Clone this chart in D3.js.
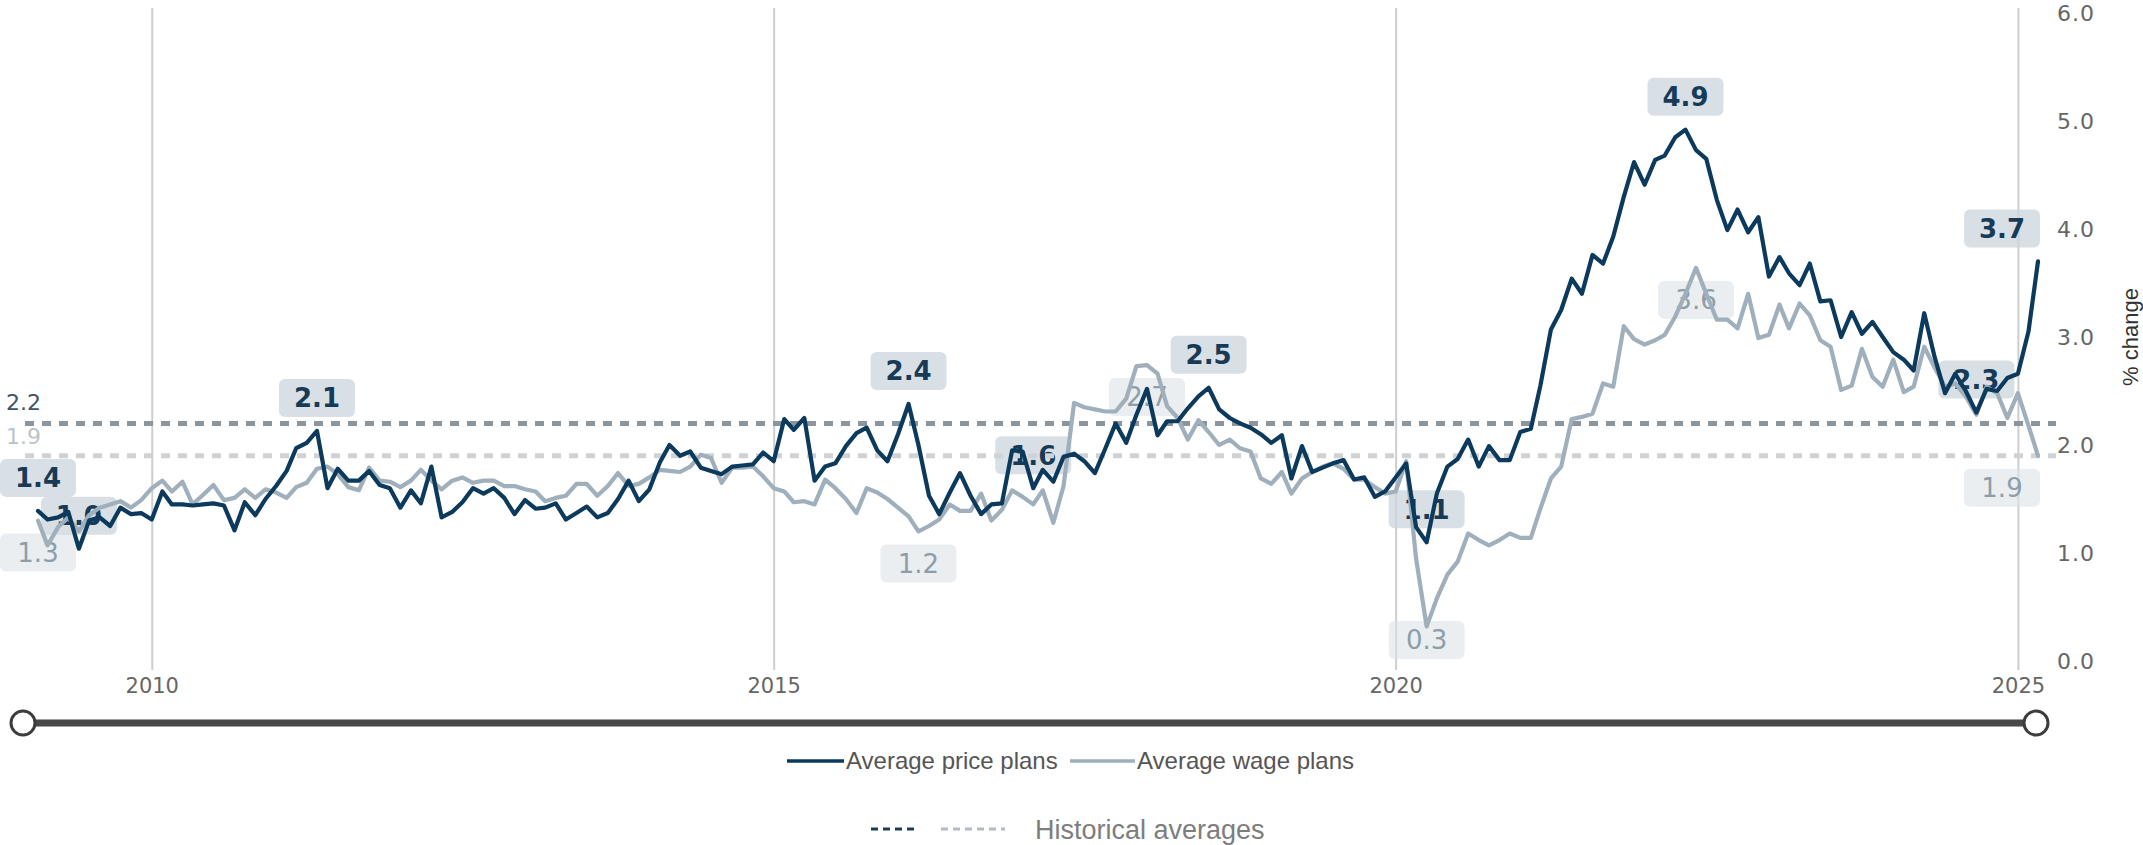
<!DOCTYPE html>
<html>
<head>
<meta charset="utf-8">
<script src="https://cdn.jsdelivr.net/npm/d3@7"></script>
<style>
  html, body { margin: 0; padding: 0; background: #fff; }
  svg { display: block; }
</style>
</head>
<body>
<svg id="chart"></svg>
<script>
// monthly survey readings, Feb 2009 .. Mar 2025
var months = d3.timeMonth.range(new Date(2009, 1, 1), new Date(2025, 3, 1));

var pricePlans = [
  1.39, 1.31, 1.33, 1.38, 1.04, 1.30, 1.33, 1.25, 1.42, 1.36, 1.37,
  1.31, 1.57, 1.45, 1.45, 1.44, 1.45, 1.46, 1.44, 1.21, 1.47, 1.35, 1.50,
  1.62, 1.76, 1.97, 2.02, 2.13, 1.60, 1.78, 1.67, 1.67, 1.76, 1.63, 1.60,
  1.42, 1.58, 1.46, 1.80, 1.33, 1.38, 1.47, 1.60, 1.55, 1.60, 1.51, 1.36,
  1.49, 1.41, 1.42, 1.46, 1.31, 1.37, 1.43, 1.33, 1.37, 1.50, 1.67, 1.48,
  1.59, 1.84, 2.00, 1.90, 1.94, 1.79, 1.76, 1.73, 1.80, 1.81, 1.82, 1.93,
  1.85, 2.24, 2.14, 2.25, 1.67, 1.80, 1.83, 1.99, 2.11, 2.16, 1.95, 1.85,
  2.10, 2.38, 2.00, 1.53, 1.36, 1.56, 1.74, 1.53, 1.36, 1.45, 1.46, 1.95,
  1.94, 1.60, 1.77, 1.66, 1.89, 1.92, 1.85, 1.74, 1.97, 2.20, 2.02, 2.28,
  2.52, 2.09, 2.22, 2.22, 2.34, 2.45, 2.53, 2.33, 2.25, 2.20, 2.16, 2.10,
  2.02, 2.09, 1.69, 1.99, 1.75, 1.79, 1.83, 1.86, 1.68, 1.70, 1.52, 1.57,
  1.70, 1.83, 1.24, 1.10, 1.55, 1.80, 1.87, 2.05, 1.80, 1.99, 1.86, 1.86,
  2.12, 2.15, 2.55, 3.07, 3.25, 3.54, 3.40, 3.76, 3.68, 3.93, 4.30, 4.62,
  4.41, 4.64, 4.68, 4.85, 4.92, 4.73, 4.65, 4.27, 3.99, 4.18, 3.97, 4.11,
  3.56, 3.74, 3.59, 3.48, 3.68, 3.33, 3.34, 3.00, 3.23, 3.03, 3.14, 3.00,
  2.86, 2.79, 2.69, 3.22, 2.82, 2.48, 2.66, 2.50, 2.30, 2.52, 2.50, 2.62,
  2.66, 3.05, 3.70
];

var wagePlans = [
  1.30, 1.07, 1.24, 1.33, 1.20, 1.35, 1.42, 1.45, 1.48, 1.42, 1.49,
  1.60, 1.67, 1.57, 1.66, 1.45, 1.54, 1.63, 1.49, 1.51, 1.59, 1.51, 1.59,
  1.56, 1.51, 1.61, 1.65, 1.78, 1.80, 1.73, 1.61, 1.58, 1.79, 1.67, 1.66,
  1.61, 1.67, 1.77, 1.67, 1.59, 1.67, 1.70, 1.65, 1.67, 1.67, 1.62, 1.62,
  1.59, 1.57, 1.48, 1.51, 1.53, 1.64, 1.64, 1.53, 1.62, 1.74, 1.62, 1.64,
  1.70, 1.77, 1.76, 1.75, 1.80, 1.91, 1.88, 1.65, 1.79, 1.79, 1.80, 1.71,
  1.60, 1.57, 1.47, 1.48, 1.45, 1.68, 1.60, 1.50, 1.37, 1.60, 1.56, 1.50,
  1.42, 1.34, 1.20, 1.25, 1.31, 1.45, 1.39, 1.39, 1.55, 1.30, 1.40, 1.58,
  1.52, 1.45, 1.58, 1.28, 1.62, 2.39, 2.35, 2.33, 2.31, 2.31, 2.43, 2.73,
  2.74, 2.66, 2.36, 2.25, 2.05, 2.23, 2.12, 2.00, 2.05, 1.97, 1.94, 1.69,
  1.64, 1.75, 1.55, 1.69, 1.75, 1.80, 1.83, 1.78, 1.68, 1.68, 1.61, 1.55,
  1.57, 1.85, 0.95, 0.32, 0.58, 0.80, 0.92, 1.18, 1.12, 1.07, 1.12, 1.18,
  1.14, 1.14, 1.41, 1.69, 1.80, 2.24, 2.26, 2.29, 2.57, 2.54, 3.10, 2.98,
  2.93, 2.97, 3.02, 3.19, 3.40, 3.64, 3.40, 3.16, 3.16, 3.08, 3.40, 2.99,
  3.02, 3.30, 3.08, 3.31, 3.20, 2.97, 2.91, 2.51, 2.55, 2.89, 2.63, 2.54,
  2.79, 2.49, 2.54, 2.91, 2.72, 2.54, 2.57, 2.45, 2.28, 2.54, 2.48, 2.25,
  2.48, 2.18, 1.90
];

var priceAverage = 2.2,
    wageAverage = 1.9;

// points that carry a value flag
var priceFlags = [0, 4, 27, 84, 96, 113, 134, 159, 187, 193];
var wageFlags = [0, 85, 107, 134, 160, 193];

var yearTicks = [2010, 2015, 2020, 2025];
var valueTicks = [0, 1, 2, 3, 4, 5, 6];

var width = 2143,
    height = 845,
    svg = d3.select("#chart").attr("width", width).attr("height", height);

var x = d3.scaleTime().domain([months[0], months[months.length - 1]]).range([38, 2038]);
var y = d3.scaleLinear().domain([0, 6]).range([661, 13]);

var priceColor = "#0c3a5d",
    wageColor = "#9fafbb",
    fmt = d3.format(".1f");

// year grid + labels
var xAxis = svg.append("g")
    .attr("transform", "translate(0,670)")
    .call(d3.axisBottom(x)
        .tickValues(yearTicks.map(function(d) { return new Date(d, 0, 1); }))
        .tickFormat(d3.timeFormat("%Y"))
        .tickSizeInner(-662)
        .tickSizeOuter(0)
        .tickPadding(8));
xAxis.select(".domain").remove();
xAxis.selectAll(".tick line").attr("stroke", "#cdcdcd").attr("stroke-width", 2);
xAxis.selectAll(".tick text")
    .attr("font-family", "DejaVu Sans, sans-serif")
    .attr("font-size", 21)
    .attr("fill", "#666");

// value axis on the right
var yAxis = svg.append("g")
    .attr("transform", "translate(2057,0)")
    .call(d3.axisRight(y).tickValues(valueTicks).tickFormat(fmt).tickSize(0).tickPadding(0));
yAxis.select(".domain").remove();
yAxis.selectAll(".tick text")
    .attr("font-family", "DejaVu Sans, sans-serif")
    .attr("font-size", 22)
    .attr("letter-spacing", 1)
    .attr("fill", "#666");

svg.append("text")
    .attr("transform", "translate(2138," + y(3) + ") rotate(-90)")
    .attr("text-anchor", "middle")
    .attr("font-family", "Liberation Sans, Arial, sans-serif")
    .attr("font-size", 22)
    .attr("fill", "#333")
    .text("% change");

// historical average captions
svg.append("text").attr("x", 6).attr("y", y(priceAverage) - 13)
    .attr("font-family", "DejaVu Sans, sans-serif").attr("font-size", 22)
    .attr("fill", "#3d5567").text(fmt(priceAverage));
svg.append("text").attr("x", 6).attr("y", y(wageAverage) - 12)
    .attr("font-family", "DejaVu Sans, sans-serif").attr("font-size", 22)
    .attr("fill", "#bcc4ca").text(fmt(wageAverage));

// flags (under the lines, like the original)
var drawFlags = function(idx, values, above, boxFill, textColor, weight) {
    var g = svg.append("g").selectAll("g").data(idx).enter().append("g")
        .attr("transform", function(i) {
            var cx = Math.max(38, Math.min(2002, x(months[i])));
            var cy = above ? y(values[i]) - 33 : Math.min(640, y(values[i]) + 32);
            return "translate(" + cx + "," + cy + ")";
        });
    g.append("rect")
        .attr("x", -38).attr("y", -19).attr("width", 76).attr("height", 38)
        .attr("rx", 6).attr("fill", boxFill);
    g.append("text")
        .attr("text-anchor", "middle").attr("dy", "0.36em")
        .attr("font-family", "DejaVu Sans, sans-serif")
        .attr("font-size", 26).attr("font-weight", weight)
        .attr("fill", textColor)
        .text(function(i) { return fmt(values[i]); });
};
drawFlags(wageFlags, wagePlans, false, "rgba(220,227,232,0.6)", "#8d9ea9", "normal");
drawFlags(priceFlags, pricePlans, true, "rgba(203,213,221,0.75)", "#173a57", "bold");

// historical average lines
var drawAverage = function(v, color) {
    svg.append("line")
        .attr("x1", 25).attr("x2", 2056)
        .attr("y1", y(v)).attr("y2", y(v))
        .attr("stroke", color).attr("stroke-width", 5)
        .attr("stroke-dasharray", "9,8");
};
drawAverage(priceAverage, "#8b959d");
drawAverage(wageAverage, "#cfd3d6");

var drawSeries = function(values, color) {
    svg.append("path")
        .datum(values)
        .attr("fill", "none")
        .attr("stroke", color)
        .attr("stroke-width", 4.2)
        .attr("stroke-linejoin", "round")
        .attr("stroke-linecap", "round")
        .attr("d", d3.line()
            .x(function(d, i) { return x(months[i]); })
            .y(function(d) { return y(d); }));
};
drawSeries(wagePlans, wageColor);
drawSeries(pricePlans, priceColor);

// range navigator
var navY = 723, navL = 23, navR = 2036;
svg.append("rect").attr("x", navL).attr("y", navY - 3.5).attr("width", navR - navL).attr("height", 7)
    .attr("fill", "#484848").attr("stroke", "#a0a0a0").attr("stroke-width", 1);
[navL, navR].forEach(function(cx) {
    svg.append("circle").attr("cx", cx).attr("cy", navY).attr("r", 12)
        .attr("fill", "#fff").attr("stroke", "#3c3c3c").attr("stroke-width", 3);
});

// legend
var legend = svg.append("g").attr("font-family", "Liberation Sans, Arial, sans-serif");
legend.append("line").attr("x1", 787).attr("x2", 844).attr("y1", 761).attr("y2", 761)
    .attr("stroke", priceColor).attr("stroke-width", 3.5);
legend.append("text").attr("x", 846).attr("y", 769).attr("font-size", 24).attr("fill", "#555")
    .text("Average price plans");
legend.append("line").attr("x1", 1070).attr("x2", 1135).attr("y1", 761).attr("y2", 761)
    .attr("stroke", wageColor).attr("stroke-width", 3.5);
legend.append("text").attr("x", 1137).attr("y", 769).attr("font-size", 24).attr("fill", "#555")
    .text("Average wage plans");

legend.append("line").attr("x1", 871).attr("x2", 918).attr("y1", 829).attr("y2", 829)
    .attr("stroke", "#1d3c55").attr("stroke-width", 3).attr("stroke-dasharray", "7,5");
legend.append("line").attr("x1", 941).attr("x2", 1005).attr("y1", 829).attr("y2", 829)
    .attr("stroke", "#b3bcc3").attr("stroke-width", 3).attr("stroke-dasharray", "7,5");
legend.append("text").attr("x", 1035).attr("y", 839).attr("font-size", 27).attr("fill", "#7d7d7d")
    .text("Historical averages");
</script>
</body>
</html>
